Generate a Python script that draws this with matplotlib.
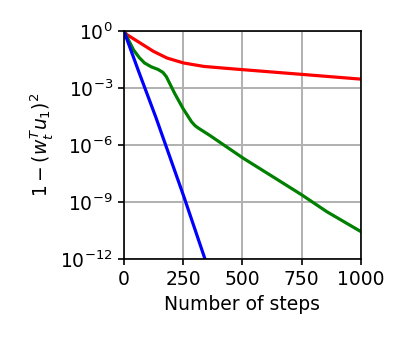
import numpy as np
from matplotlib import pyplot as plt

# values (steps, log10 of 1 - (w_t^T u_1)^2)
blue_steps = [0, 62, 135, 253, 342, 400]
blue_log = [0, -2.12, -4.55, -8.72, -12.0, -14.0]

red_steps = [0, 13, 69, 125, 182, 252, 337, 421, 500, 751, 1000]
red_log = [0, -0.19, -0.63, -1.07, -1.42, -1.68, -1.86, -1.95, -2.03, -2.28, -2.53]

green_steps = [0, 41, 65, 87, 115, 144, 165, 179, 214, 249, 285, 300, 313,
               363, 504, 645, 751, 856, 1000]
green_log = [0, -1.0, -1.4, -1.68, -1.88, -2.02, -2.18, -2.4, -3.28, -4.07, -4.77,
             -4.98, -5.1, -5.5, -6.7, -7.8, -8.63, -9.51, -10.56]

plt.rcParams['font.size'] = 13.5

fig = plt.figure(figsize=(4.05, 3.38), dpi=100)
ax = fig.add_axes([0.306, 0.234, 0.585, 0.674])

lw = 2.3
ax.plot(red_steps, 10.0 ** np.array(red_log), color='r', lw=lw)
ax.plot(green_steps, 10.0 ** np.array(green_log), color='g', lw=lw)
ax.plot(blue_steps, 10.0 ** np.array(blue_log), color='b', lw=lw)

ax.set_yscale('log')
ax.set_xlim(0, 1000)
ax.set_ylim(1e-12, 1e0)
ax.set_xticks([0, 250, 500, 750, 1000])
ax.set_yticks([1e0, 1e-3, 1e-6, 1e-9, 1e-12])
ax.minorticks_off()
ax.grid(True, color='#b0b0b0', lw=1.4)
ax.tick_params(length=4.5, width=1.2)
for s in ax.spines.values():
    s.set_linewidth(1.2)

ax.set_xlabel('Number of steps')
ax.set_ylabel(r'$1-(w_t^Tu_1)^2$')

fig.savefig('out.png', dpi=100)
